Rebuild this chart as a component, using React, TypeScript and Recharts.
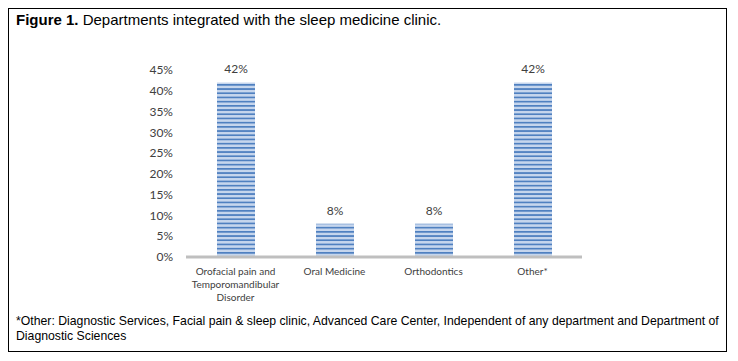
import React from "react";
import { BarChart, Bar, XAxis, YAxis, LabelList } from "recharts";

const categories = [
  "Orofacial pain and Temporomandibular Disorder",
  "Oral Medicine",
  "Orthodontics",
  "Other*",
];
const percentages = [42, 8, 8, 42];
const yTicks = [0, 5, 10, 15, 20, 25, 30, 35, 40, 45];

const titleBold = "Figure 1.";
const titleRest = " Departments integrated with the sleep medicine clinic.";
const footnote =
  "*Other: Diagnostic Services, Facial pain & sleep clinic, Advanced Care Center, Independent of any department and Department of Diagnostic Sciences";

const data = categories.map((c, i) => ({ name: c, value: percentages[i] }));

function wrap(s: string, max: number): string[] {
  const words = s.split(" ");
  const lines: string[] = [];
  let cur = "";
  for (const w of words) {
    const t = cur ? cur + " " + w : w;
    if (t.length > max && cur) {
      lines.push(cur);
      cur = w;
    } else cur = t;
  }
  if (cur) lines.push(cur);
  return lines;
}

const CatTick = (props: any) => {
  const { x, y, payload } = props;
  const lines = wrap(String(payload.value), 18);
  return (
    <text
      x={x}
      y={y}
      textAnchor="middle"
      style={{ fontFamily: "Lato", fontSize: 10, fill: "#404040" }}
    >
      {lines.map((l, i) => (
        <tspan key={i} x={x} y={y + 10 + i * 13}>
          {l}
        </tspan>
      ))}
    </text>
  );
};

export default function App() {
  return (
    <div style={{ position: "relative", width: 722, height: 345 }}>
      <div
        style={{
          position: "absolute",
          left: 0,
          top: 0,
          width: 719,
          height: 344,
          boxSizing: "border-box",
          border: "1.3px solid #000",
        }}
      />
      <div
        style={{
          position: "absolute",
          left: 8,
          top: 3,
          fontFamily: "Liberation Sans, Arial, sans-serif",
          fontSize: 15,
          color: "#000",
          whiteSpace: "nowrap",
          lineHeight: "18px",
        }}
      >
        <b>{titleBold}</b>
        {titleRest}
      </div>
      <div style={{ position: "absolute", left: -8, top: -8 }}>
        <BarChart
          width={738}
          height={361}
          data={data}
          margin={{ top: 70, right: 156, bottom: 60, left: 136 }}
        >
          <defs>
            <pattern id="stripes" patternUnits="userSpaceOnUse" width="8" height="4.2">
              <rect x="0" y="0" width="8" height="4.2" fill="#c6d6ed" />
              <rect x="0" y="0" width="8" height="1.7" fill="#4f80c0" />
            </pattern>
          </defs>
          <XAxis
            dataKey="name"
            interval={0}
            tickLine={false}
            axisLine={{ stroke: "#bfbfbf", strokeWidth: 3 }}
            tick={<CatTick />}
            height={44}
          />
          <YAxis
            domain={[0, 45]}
            ticks={yTicks}
            width={50}
            axisLine={false}
            tickLine={false}
            tickSize={0}
            tickMargin={13}
            tickFormatter={(v: number) => `${v}%`}
            tick={{ fontFamily: "Lato", fontSize: 12, fill: "#404040" }}
          />
          <Bar dataKey="value" fill="url(#stripes)" barSize={38} isAnimationActive={false}>
            <LabelList
              dataKey="value"
              position="top"
              offset={9}
              formatter={(v: number) => `${v}%`}
              style={{ fontFamily: "Lato", fontSize: 12, fill: "#404040" }}
            />
          </Bar>
        </BarChart>
      </div>
      <div
        style={{
          position: "absolute",
          left: 8,
          top: 306,
          width: 712,
          fontFamily: "Liberation Sans, Arial, sans-serif",
          fontSize: 12.25,
          lineHeight: "15px",
          color: "#000",
        }}
      >
        {footnote}
      </div>
    </div>
  );
}
